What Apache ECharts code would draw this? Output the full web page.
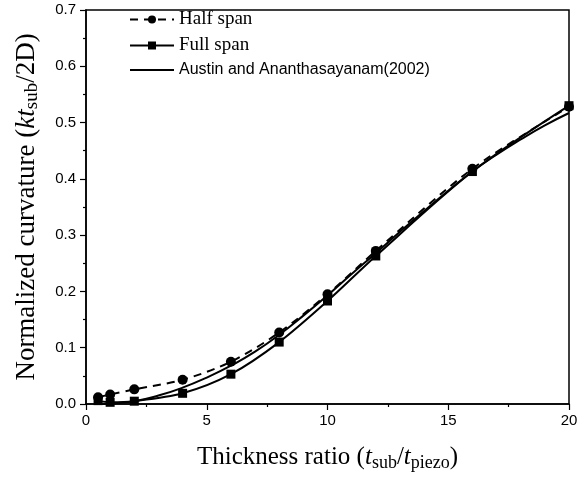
<!DOCTYPE html>
<html><head><meta charset="utf-8">
<script src="https://cdn.jsdelivr.net/npm/echarts@6/dist/echarts.min.js"></script>
<style>html,body{margin:0;padding:0;background:#fff}#c{width:584px;height:479px}</style>
</head><body><div id="c"></div>
<script>
const xMeasured = [0.5, 1, 2, 4, 6, 8, 10, 12, 16, 20];
const halfSpan = [0.012, 0.017, 0.026, 0.043, 0.075, 0.127, 0.195, 0.272, 0.418, 0.528];
const fullSpan = [0.006, 0.003, 0.005, 0.019, 0.053, 0.110, 0.183, 0.263, 0.413, 0.530];
const xAustin = [0.5, 1, 2, 3, 4, 5, 6, 7, 8, 9, 10, 11, 12, 13, 14, 15, 16, 17, 18, 19, 20];
const austin = [0.000, 0.001, 0.005, 0.015, 0.029, 0.047, 0.068, 0.093, 0.123, 0.157, 0.193, 0.231, 0.268, 0.306, 0.343, 0.379, 0.413, 0.443, 0.470, 0.495, 0.517];
const xTicks = [0, 5, 10, 15, 20];
const yTicks = [0.0, 0.1, 0.2, 0.3, 0.4, 0.5, 0.6, 0.7];

const pair = (xs, ys) => xs.map((x, i) => [x, ys[i]]);
const chart = echarts.init(document.getElementById('c'), null, {renderer: 'canvas'});
const serif = 'Liberation Serif';
const sans = 'Liberation Sans';
chart.setOption({
  animation: false,
  grid: {left: 86, right: 15, top: 10, bottom: 75, show: true, borderColor: '#000', borderWidth: 1.5,
    containLabel: false, outerBoundsMode: 'none'},
  legend: {
    left: 124, top: 5, orient: 'vertical', itemGap: 7, itemWidth: 44, itemHeight: 10,
    data: [
      {name: 'Half span', textStyle: {fontFamily: serif, fontSize: 19}},
      {name: 'Full span', textStyle: {fontFamily: serif, fontSize: 19}},
      {name: 'Austin and Ananthasayanam(2002)', itemStyle: {color: 'rgba(0,0,0,0)', borderWidth: 0},
        textStyle: {fontFamily: sans, fontSize: 16}}
    ],
    textStyle: {color: '#000'}
  },
  xAxis: {
    type: 'value', min: 0, max: 20, interval: 5,
    axisLine: {show: true, lineStyle: {color: '#000', width: 1.5}},
    axisTick: {show: true, inside: false, length: 6, lineStyle: {color: '#000', width: 1.2}},
    minorTick: {show: true, splitNumber: 2, length: 3, lineStyle: {color: '#000', width: 1.2}},
    splitLine: {show: false},
    axisLabel: {fontFamily: sans, fontSize: 15, color: '#000', margin: 9,
      formatter: v => xTicks.includes(v) ? String(v) : ''},
    name: '{n|Thickness ratio (}{i|t}{s|sub}{n|/}{i|t}{s|piezo}{n|)}',
    nameLocation: 'middle', nameGap: 38,
    nameTextStyle: {rich: {
      n: {fontFamily: serif, fontSize: 25, color: '#000', lineHeight: 30},
      i: {fontFamily: serif, fontSize: 25, fontStyle: 'italic', color: '#000', lineHeight: 30},
      s: {fontFamily: serif, fontSize: 18, color: '#000', lineHeight: 30, verticalAlign: 'bottom', padding: [14, 0, 0, 0]}
    }}
  },
  yAxis: {
    type: 'value', min: 0, max: 0.7, interval: 0.1,
    axisLine: {show: true, lineStyle: {color: '#000', width: 1.5}},
    axisTick: {show: true, inside: false, length: 6, lineStyle: {color: '#000', width: 1.2}},
    minorTick: {show: true, splitNumber: 2, length: 3, lineStyle: {color: '#000', width: 1.2}},
    splitLine: {show: false},
    axisLabel: {fontFamily: sans, fontSize: 15, color: '#000', margin: 10,
      formatter: v => v.toFixed(1)},
    name: '{n|Normalized curvature (}{i|kt}{s|sub}{n|/2D)}',
    nameLocation: 'middle', nameGap: 44, nameRotate: 90,
    nameTextStyle: {rich: {
      n: {fontFamily: serif, fontSize: 27, color: '#000', lineHeight: 30},
      i: {fontFamily: serif, fontSize: 27, fontStyle: 'italic', color: '#000', lineHeight: 30},
      s: {fontFamily: serif, fontSize: 19, color: '#000', lineHeight: 30, verticalAlign: 'bottom', padding: [14, 0, 0, 0]}
    }}
  },
  series: [
    {name: 'Half span', type: 'line', data: pair(xMeasured, halfSpan), symbol: 'circle', symbolSize: 10,
      smooth: 0.3, itemStyle: {color: '#000'}, lineStyle: {color: '#000', width: 2, type: [8, 6]}},
    {name: 'Full span', type: 'line', data: pair(xMeasured, fullSpan), symbol: 'rect', symbolSize: 9,
      smooth: 0.3, itemStyle: {color: '#000'}, lineStyle: {color: '#000', width: 2}},
    {name: 'Austin and Ananthasayanam(2002)', type: 'line', data: pair(xAustin, austin), symbol: 'none',
      showSymbol: false, smooth: true, itemStyle: {color: '#000'}, lineStyle: {color: '#000', width: 2}}
  ]
});
</script></body></html>
